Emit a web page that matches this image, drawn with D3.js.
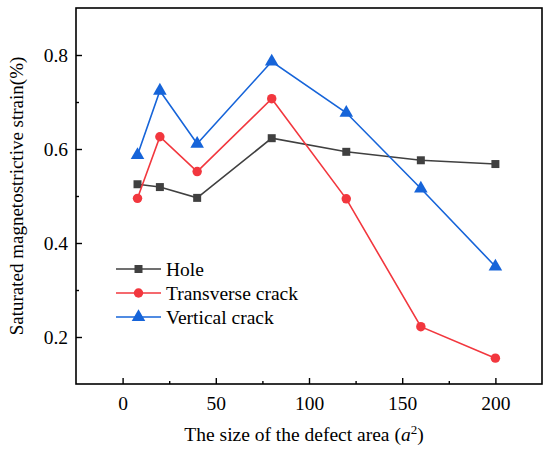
<!DOCTYPE html>
<html>
<head>
<meta charset="utf-8">
<script src="https://cdn.jsdelivr.net/npm/d3@7"></script>
<style>
  body { margin: 0; background: #fff; }
</style>
</head>
<body>
<div id="chart"></div>
<script>
// data
const sizes = [8, 20, 40, 80, 120, 160, 200]
const hole = [0.525, 0.519, 0.496, 0.623, 0.594, 0.576, 0.568]
const transverse = [0.495, 0.626, 0.552, 0.707, 0.494, 0.222, 0.155]
const vertical = [0.587, 0.724, 0.611, 0.786, 0.677, 0.516, 0.350]
const seriesNames = ["Hole", "Transverse crack", "Vertical crack"]
const xTicks = [0, 50, 100, 150, 200]
const yTicks = [0.2, 0.4, 0.6, 0.8]

const FONT = "Liberation Serif, serif"
const colors = ["#404040", "#f2373e", "#1664d9"]
const symbols = [d3.symbolSquare, d3.symbolCircle, d3.symbolTriangle]
const symSize = [64, 70, 80]

const margin = { top: 8, right: 8, bottom: 66, left: 76 }
const width = 550 - margin.left - margin.right
const height = 450 - margin.top - margin.bottom

const svg = d3.select("#chart").append("svg")
    .attr("width", 550)
    .attr("height", 450)
    .attr("font-family", FONT)
const g = svg.append("g")
    .attr("transform", "translate(" + margin.left + "," + margin.top + ")")

const x = d3.scaleLinear().domain([-25, 225]).range([0, width])
const y = d3.scaleLinear().domain([0.1, 0.9]).range([height, 0])

// frame
g.append("rect")
    .attr("width", width).attr("height", height)
    .attr("fill", "none").attr("stroke", "#000").attr("stroke-width", 1.6)

// bottom axis, ticks inward
const xAxis = g.append("g")
    .attr("transform", "translate(0," + height + ")")
xAxis.call(d3.axisBottom(x).tickValues(xTicks).tickSize(-6).tickPadding(12).tickFormat(d3.format("d")))
xAxis.append("g").call(d3.axisBottom(x).tickValues([25, 75, 125, 175]).tickSize(-3).tickFormat(""))
xAxis.selectAll(".domain").remove()
xAxis.attr("font-family", FONT)
xAxis.selectAll("line").attr("stroke", "#000").attr("stroke-width", 1.4)
xAxis.selectAll("text").attr("font-size", 19.5).attr("fill", "#000")

const yAxis = g.append("g")
yAxis.call(d3.axisLeft(y).tickValues(yTicks).tickSize(-6).tickPadding(8).tickFormat(d3.format(".1f")))
yAxis.append("g").call(d3.axisLeft(y).tickValues([0.3, 0.5, 0.7]).tickSize(-3).tickFormat(""))
yAxis.selectAll(".domain").remove()
yAxis.attr("font-family", FONT)
yAxis.selectAll("line").attr("stroke", "#000").attr("stroke-width", 1.4)
yAxis.selectAll("text").attr("font-size", 19.5).attr("fill", "#000")

// axis titles
svg.append("text")
    .attr("x", margin.left + width / 2 - 5).attr("y", 441)
    .attr("text-anchor", "middle").attr("font-size", 19.5)
    .html('The size of the defect area (<tspan font-style="italic">a</tspan><tspan baseline-shift="super" font-size="13">2</tspan>)')

svg.append("text")
    .attr("transform", "translate(23," + (margin.top + height / 2) + ") rotate(-90)")
    .attr("text-anchor", "middle").attr("font-size", 19)
    .text("Saturated magnetostrictive strain(%)")

// lines and markers
const allSeries = [hole, transverse, vertical]
const line = d3.line()
    .x((d, i) => x(sizes[i]))
    .y(d => y(d))

allSeries.forEach(function (vals, k) {
    g.append("path")
        .datum(vals)
        .attr("fill", "none")
        .attr("stroke", colors[k])
        .attr("stroke-width", 1.6)
        .attr("d", line)
    g.selectAll(".m" + k)
        .data(vals)
        .enter().append("path")
        .attr("class", "m" + k)
        .attr("transform", (d, i) => "translate(" + x(sizes[i]) + "," + y(d) + ")")
        .attr("d", d3.symbol().type(symbols[k]).size(symSize[k]))
        .attr("fill", colors[k])
})

// legend
const legend = g.append("g").attr("transform", "translate(40,261)")
seriesNames.forEach(function (name, k) {
    const row = legend.append("g").attr("transform", "translate(0," + (k * 24) + ")")
    row.append("line")
        .attr("x1", 0).attr("x2", 45)
        .attr("stroke", colors[k]).attr("stroke-width", 1.6)
    row.append("path")
        .attr("transform", "translate(22.5,0)")
        .attr("d", d3.symbol().type(symbols[k]).size(symSize[k]))
        .attr("fill", colors[k])
    row.append("text")
        .attr("x", 50).attr("y", 6.5)
        .attr("font-size", 19.5)
        .text(name)
})
</script>
</body>
</html>
